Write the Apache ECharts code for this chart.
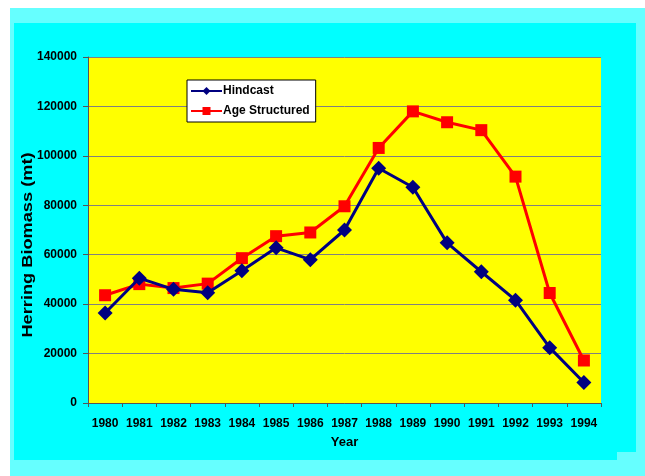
<!DOCTYPE html>
<html>
<head>
<meta charset="utf-8">
<style>
  html, body { margin: 0; padding: 0; background: #ffffff; }
  #chart { width: 645px; height: 476px; }
</style>
<script src="https://cdn.jsdelivr.net/npm/echarts@6/dist/echarts.min.js"></script>
</head>
<body>
<div id="chart"></div>
<script>
// Herring biomass estimates (metric tonnes), 1980-1994
const years = ['1980','1981','1982','1983','1984','1985','1986','1987','1988','1989','1990','1991','1992','1993','1994'];
const hindcast = [36400, 50500, 46000, 44600, 53500, 62800, 58000, 70000, 95000, 87300, 64800, 53100, 41600, 22400, 8300];
const ageStructured = [43600, 48100, 46500, 48300, 58600, 67500, 69000, 79600, 103200, 118000, 113600, 110400, 91600, 44500, 17200];
const yTicks = { min: 0, max: 140000, step: 20000 };

const font = 'Arial, "Liberation Sans", sans-serif';
const chart = echarts.init(document.getElementById('chart'), null, { renderer: 'canvas' });

chart.setOption({
  animation: false,
  backgroundColor: '#ffffff',
  graphic: [
    // slide background and chart area panel
    { type: 'rect', z: -10, shape: { x: 10, y: 8, width: 635, height: 468 }, style: { fill: '#66ffff' } },
    {
      type: 'polygon', z: -9,
      shape: { points: [[14, 23], [636, 23], [636, 452], [617, 452], [617, 460], [14, 460]] },
      style: { fill: '#00ffff' }
    },
    // vertical axis title, drawn slightly stretched along its length
    {
      type: 'text', z: 10,
      x: 28, y: 245,
      rotation: Math.PI / 2,
      scaleX: 1.3,
      style: {
        text: 'Herring Biomass (mt)',
        font: 'bold 14px ' + font,
        fill: '#000000',
        align: 'center',
        verticalAlign: 'middle'
      }
    }
  ],
  grid: {
    left: 88, top: 57, right: 44, bottom: 73,
    show: true, backgroundColor: '#ffff00', borderWidth: 0
  },
  legend: {
    orient: 'vertical',
    left: 187, top: 80,
    backgroundColor: '#ffffff',
    borderColor: '#000000', borderWidth: 1,
    padding: [5, 6, 5, 3],
    itemGap: 8,
    itemWidth: 31, itemHeight: 10,
    textStyle: { fontFamily: font, fontWeight: 'bold', fontSize: 12, color: '#000000', padding: [0, 0, 0, -4] },
    data: ['Hindcast', 'Age Structured']
  },
  xAxis: {
    type: 'category',
    data: years,
    boundaryGap: true,
    name: 'Year',
    nameLocation: 'middle',
    nameGap: 33,
    nameTextStyle: { fontFamily: font, fontWeight: 'bold', fontSize: 13, color: '#000000' },
    axisLine: { lineStyle: { color: '#555555', width: 1 } },
    axisTick: { show: true, length: 4, lineStyle: { color: '#555555' } },
    axisLabel: { fontFamily: font, fontWeight: 'bold', fontSize: 12, color: '#000000', margin: 15, interval: 0 },
    splitLine: { show: false }
  },
  yAxis: {
    type: 'value',
    min: yTicks.min, max: yTicks.max, interval: yTicks.step,
    axisLine: { show: true, lineStyle: { color: '#555555', width: 1 } },
    axisTick: { show: true, length: 5, lineStyle: { color: '#555555' } },
    axisLabel: {
      fontFamily: font, fontWeight: 'bold', fontSize: 12, color: '#000000', margin: 11,
      formatter: function (v) { return String(v); }
    },
    splitLine: { show: true, lineStyle: { color: '#808080', width: 1 } }
  },
  series: [
    {
      name: 'Age Structured',
      type: 'line',
      data: ageStructured,
      symbol: 'rect',
      symbolSize: 12,
      lineStyle: { color: '#ff0000', width: 3 },
      itemStyle: { color: '#ff0000' },
      z: 2
    },
    {
      name: 'Hindcast',
      type: 'line',
      data: hindcast,
      symbol: 'diamond',
      symbolSize: 15,
      lineStyle: { color: '#000080', width: 3 },
      itemStyle: { color: '#000080' },
      z: 3
    }
  ]
});
</script>
</body>
</html>
